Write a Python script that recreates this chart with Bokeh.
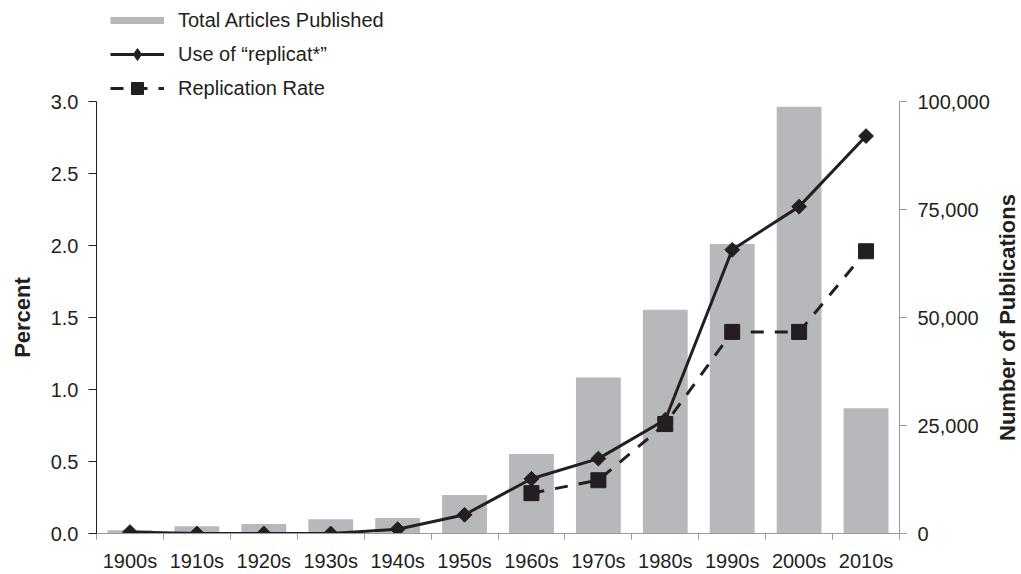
import math
import numpy as np
from bokeh.plotting import figure
from bokeh.layouts import row
from bokeh.models import (Range1d, LinearAxis, FixedTicker, Legend, LegendItem,
                          NumeralTickFormatter, ColumnDataSource)
from bokeh.core.properties import value
from bokeh.embed import file_html
from bokeh.resources import INLINE

# ---- data ----
decades = ["1900s", "1910s", "1920s", "1930s", "1940s", "1950s",
           "1960s", "1970s", "1980s", "1990s", "2000s", "2010s"]
total_articles = [750, 1700, 2200, 3300, 3600, 8900, 18400, 36100, 51800, 67000, 98800, 29000]
replicat_use = [0.01, 0.0, 0.0, 0.0, 0.03, 0.13, 0.38, 0.52, 0.79, 1.97, 2.27, 2.76]
replication_rate = [None, None, None, None, None, None, 0.28, 0.37, 0.76, 1.40, 1.40, 1.96]
pct_ticks = [0.0, 0.5, 1.0, 1.5, 2.0, 2.5, 3.0]
pub_ticks = [0, 25000, 50000, 75000, 100000]
left_title = "Percent"
right_title = "Number of Publications"

FONT = "Liberation Sans"
INK = "#231f20"
BAR = "#b7b8bb"
AXIS_GRAY = "#9a9a9a"

W, H = 1021, 574
LW, RW = 44, 28                 # side strips holding the axis titles
LEFT, RIGHT, BOTTOM = 52, 94, 41
frame_h = H - BOTTOM            # frame runs to the top edge (room for legend)
axis_px = 432                   # pixel height of the 0..3.0 scale
stretch = frame_h / axis_px

x_pos = np.arange(len(decades)) + 0.5
src = ColumnDataSource(dict(
    x=x_pos,
    total=total_articles,
    use=replicat_use,
    rate=[np.nan if v is None else v for v in replication_rate],
))
# legend-only swatch source: a single empty (NaN) point, draws nothing in the plot
swatch = ColumnDataSource(dict(x=[np.nan], y=[np.nan]))

y_rng = Range1d(pct_ticks[0], pct_ticks[-1] * stretch)
p = figure(width=W - LW - RW, height=H, output_backend="svg", toolbar_location=None,
           x_range=Range1d(0, len(decades)), y_range=y_rng,
           x_axis_type=None, y_axis_type=None,
           min_border_left=LEFT, min_border_right=RIGHT,
           min_border_top=0, min_border_bottom=BOTTOM)
p.outline_line_color = None
p.background_fill_color = "white"
p.extra_y_ranges = {"pubs": Range1d(pub_ticks[0], pub_ticks[-1] * stretch)}

bars = p.vbar(x="x", top="total", width=0.67, source=src, y_range_name="pubs",
              fill_color=BAR, line_color=None)
use_line = p.line("x", "use", source=src, line_color=INK, line_width=3)
use_pts = p.scatter("x", "use", source=src, marker="square", angle=math.pi / 4,
                    size=10.5, fill_color=INK, line_color=INK)
rate_line = p.line("x", "rate", source=src, line_color=INK, line_width=3,
                   line_dash="13 11")
rate_pts = p.scatter("x", "rate", source=src, marker="square", size=15,
                     fill_color=INK, line_color=INK)
leg_bar = p.line("x", "y", source=swatch, line_color=BAR, line_width=7)
leg_diamond = p.scatter("x", "y", source=swatch, marker="diamond",
                        fill_color=INK, line_color=INK)

# ---- axes ----
xa = LinearAxis(ticker=FixedTicker(ticks=list(x_pos), minor_ticks=list(range(len(decades) + 1))),
                major_label_overrides={float(x): d for x, d in zip(x_pos, decades)})
xa.axis_line_color = AXIS_GRAY
xa.major_tick_out = 0
xa.major_tick_in = 0
xa.minor_tick_out = 6
xa.minor_tick_in = 0
xa.minor_tick_line_color = AXIS_GRAY
xa.major_label_standoff = 10
xa.major_label_text_font = FONT
xa.major_label_text_font_size = "20px"
xa.major_label_text_color = INK
p.add_layout(xa, "below")

yl = LinearAxis(ticker=FixedTicker(ticks=pct_ticks), bounds=(pct_ticks[0], pct_ticks[-1]),
                formatter=NumeralTickFormatter(format="0.0"))
yl.axis_line_color = INK
yl.major_tick_line_color = INK
yl.major_tick_out = 8
yl.major_tick_in = 0
yl.major_label_standoff = 10
yl.major_label_text_font = FONT
yl.major_label_text_font_size = "20px"
yl.major_label_text_color = INK
p.add_layout(yl, "left")

yr = LinearAxis(y_range_name="pubs", ticker=FixedTicker(ticks=pub_ticks),
                bounds=(pub_ticks[0], pub_ticks[-1]),
                formatter=NumeralTickFormatter(format="0,0"))
yr.axis_line_color = AXIS_GRAY
yr.major_tick_line_color = AXIS_GRAY
yr.major_tick_out = 7
yr.major_tick_in = 0
yr.major_label_standoff = 11
yr.major_label_text_font = FONT
yr.major_label_text_font_size = "20px"
yr.major_label_text_color = INK
p.add_layout(yr, "right")

# ---- legend (top-left, inside the tall frame) ----
leg = Legend(items=[
    LegendItem(label="Total Articles Published", renderers=[leg_bar]),
    LegendItem(label="Use of \u201creplicat*\u201d", renderers=[use_line, leg_diamond]),
    LegendItem(label="Replication Rate", renderers=[rate_line, rate_pts]),
], location=(14, frame_h - 103))
leg.glyph_width = 54
leg.glyph_height = 30
leg.spacing = 4
leg.label_standoff = 14
leg.label_text_font = FONT
leg.label_text_font_size = "20px"
leg.label_text_color = INK
leg.border_line_color = None
leg.background_fill_alpha = 0
leg.padding = 0
leg.margin = 0
leg.label_height = 20
p.add_layout(leg, "center")


# ---- axis titles in narrow side strips, read bottom to top ----
def title_strip(width, text):
    f = figure(width=width, height=H, output_backend="svg", toolbar_location=None,
               x_range=Range1d(0, 1), y_range=y_rng,
               x_axis_type=None, y_axis_type=None,
               min_border_left=0, min_border_right=0,
               min_border_top=0, min_border_bottom=BOTTOM)
    f.outline_line_color = None
    f.text(x=[0.5], y=[(pct_ticks[0] + pct_ticks[-1]) / 2], text=[text],
           angle=math.pi / 2, text_align="center", text_baseline="middle",
           text_font=value(FONT), text_font_style="bold", text_font_size="22px",
           text_color=INK)
    return f


layout = row(title_strip(LW, left_title), p, title_strip(RW, right_title))
open("out.html", "w").write(file_html(layout, INLINE))
